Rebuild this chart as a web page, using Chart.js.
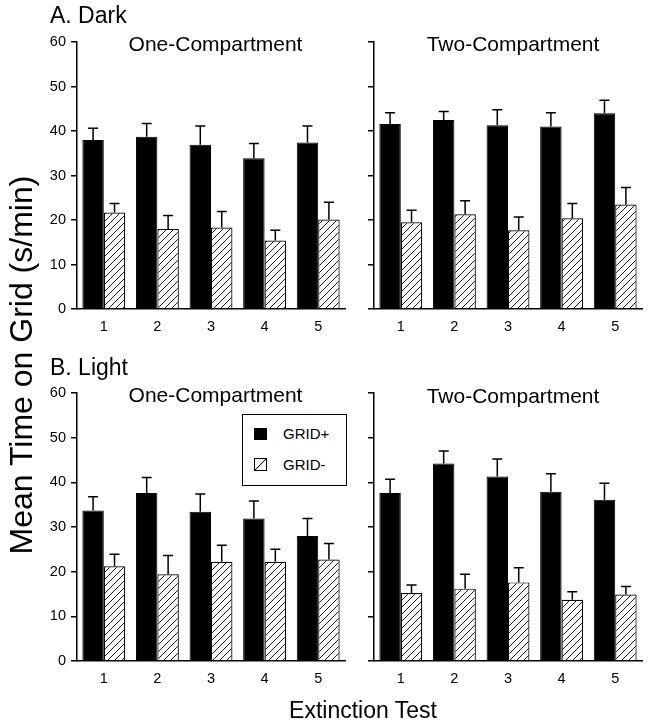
<!DOCTYPE html>
<html>
<head>
<meta charset="utf-8">
<script src="https://cdn.jsdelivr.net/npm/chart.js@4/dist/chart.umd.min.js"></script>
<style>
  html, body { margin:0; padding:0; background:#fff; }
  #wrap { position:relative; width:649px; height:725px; overflow:hidden; background:#fff;
          font-family:"Liberation Sans", Arial, Helvetica, sans-serif; color:#000; }
  canvas { position:absolute; }
  .txt { position:absolute; white-space:nowrap; line-height:1; }
  .ctr { text-align:center; }
</style>
</head>
<body>
<div id="wrap">
  <canvas id="c1"></canvas>
  <canvas id="c2"></canvas>
  <canvas id="c3"></canvas>
  <canvas id="c4"></canvas>

  <div class="txt" style="left:50px;top:3.8px;font-size:23px;">A. Dark</div>
  <div class="txt" style="left:50px;top:355.5px;font-size:23px;">B. Light</div>

  <div class="txt ctr" style="left:115.5px;width:200px;top:33.2px;font-size:21px;">One-Compartment</div>
  <div class="txt ctr" style="left:413px;width:200px;top:33.2px;font-size:21px;">Two-Compartment</div>
  <div class="txt ctr" style="left:115.5px;width:200px;top:384px;font-size:21px;">One-Compartment</div>
  <div class="txt ctr" style="left:413px;width:200px;top:385px;font-size:21px;">Two-Compartment</div>

  <div class="txt ctr" style="left:213px;width:300px;top:698.5px;font-size:23px;">Extinction Test</div>
  <div class="txt ctr" style="left:-199.4px;width:440px;top:348.5px;height:32px;font-size:32px;line-height:32px;transform:rotate(-90deg);transform-origin:50% 50%;">Mean Time on Grid (s/min)</div>

  <div id="legend" style="position:absolute;left:242px;top:414px;width:103px;height:70px;border:1.5px solid #000;background:#fff;">
    <div style="position:absolute;left:11px;top:13px;width:13px;height:12px;background:#000;"></div>
    <div style="position:absolute;left:11px;top:43px;width:11px;height:11px;border:1px solid #000;background:linear-gradient(to bottom right, rgba(0,0,0,0) calc(50% - 0.8px), #000 50%, rgba(0,0,0,0) calc(50% + 0.8px));"></div>
    <div class="txt" id="lg1" style="left:40px;top:10.5px;font-size:15px;"></div>
    <div class="txt" id="lg2" style="left:40px;top:42px;font-size:15px;"></div>
  </div>
</div>

<script>
// ---------------- data ----------------
const categories = ['1', '2', '3', '4', '5'];
const seriesNames = ['GRID+', 'GRID-'];
const yTicks = [0, 10, 20, 30, 40, 50, 60];

// A. Dark, One-Compartment
const darkOneGridPlus      = [38.0, 38.7, 36.9, 33.9, 37.4];
const darkOneGridPlusErr   = [2.6, 3.0, 4.2, 3.3, 3.7];
const darkOneGridMinus     = [21.7, 18.0, 18.3, 15.4, 20.1];
const darkOneGridMinusErr  = [2.0, 3.0, 3.6, 2.3, 3.9];
// A. Dark, Two-Compartment
const darkTwoGridPlus      = [41.6, 42.5, 41.3, 41.0, 44.0];
const darkTwoGridPlusErr   = [2.5, 1.9, 3.5, 3.1, 2.9];
const darkTwoGridMinus     = [19.5, 21.3, 17.7, 20.4, 23.5];
const darkTwoGridMinusErr  = [2.7, 3.0, 3.0, 3.3, 3.8];
// B. Light, One-Compartment
const lightOneGridPlus     = [33.7, 37.6, 33.4, 31.9, 28.0];
const lightOneGridPlusErr  = [3.1, 3.5, 4.0, 3.9, 3.9];
const lightOneGridMinus    = [21.2, 19.4, 22.2, 22.2, 22.7];
const lightOneGridMinusErr = [2.7, 4.2, 3.7, 2.8, 3.6];
// B. Light, Two-Compartment
const lightTwoGridPlus     = [37.6, 44.2, 41.3, 37.9, 36.1];
const lightTwoGridPlusErr  = [3.1, 2.8, 3.9, 4.0, 3.7];
const lightTwoGridMinus    = [15.2, 16.2, 17.6, 13.7, 14.9];
const lightTwoGridMinusErr = [1.8, 3.2, 3.3, 1.8, 1.8];

// ---------------- rendering ----------------
document.getElementById('lg1').textContent = seriesNames[0];
document.getElementById('lg2').textContent = seriesNames[1];

const FONT = '"Liberation Sans", Arial, Helvetica, sans-serif';

function makeHatch() {
  const s = 7;
  const pc = document.createElement('canvas');
  pc.width = s; pc.height = s;
  const g = pc.getContext('2d');
  g.fillStyle = '#fff';
  g.fillRect(0, 0, s, s);
  g.strokeStyle = '#000';
  g.lineWidth = 0.9;
  g.beginPath();
  g.moveTo(-1, s + 1); g.lineTo(s + 1, -1);
  g.moveTo(-1, 1); g.lineTo(1, -1);
  g.moveTo(s - 1, s + 1); g.lineTo(s + 1, s - 1);
  g.stroke();
  return g.createPattern(pc, 'repeat');
}

const errorBarPlugin = {
  id: 'errorBars',
  afterDatasetsDraw(chart) {
    const ctx = chart.ctx;
    const yScale = chart.scales.y;
    ctx.save();
    ctx.strokeStyle = '#000';
    ctx.lineWidth = 1.5;
    chart.data.datasets.forEach((ds, di) => {
      const meta = chart.getDatasetMeta(di);
      meta.data.forEach((bar, i) => {
        const v = ds.data[i];
        const e = ds.errors[i];
        const x = bar.x;
        const y0 = yScale.getPixelForValue(v);
        const y1 = yScale.getPixelForValue(v + e);
        ctx.beginPath();
        ctx.moveTo(x, y0);
        ctx.lineTo(x, y1);
        ctx.moveTo(x - 5, y1);
        ctx.lineTo(x + 5, y1);
        ctx.stroke();
      });
    });
    ctx.restore();
  }
};

function panel(id, L, T, R, B, plus, plusErr, minus, minusErr, showYLabels) {
  const cv = document.getElementById(id);
  const padL = 10, padT = 20, padR = 15, padB = 10, yW = 50, xH = 30;
  const w = (R - L) + padL + yW + padR;
  const h = (B - T) + padT + xH + padB;
  cv.width = w; cv.height = h;
  cv.style.width = w + 'px'; cv.style.height = h + 'px';
  cv.style.left = (L - padL - yW) + 'px';
  cv.style.top = (T - padT) + 'px';
  const hatch = makeHatch();
  return new Chart(cv.getContext('2d'), {
    type: 'bar',
    data: {
      labels: categories,
      datasets: [
        { label: seriesNames[0], data: plus, errors: plusErr,
          backgroundColor: '#000', borderColor: '#000', borderWidth: 1,
          barPercentage: 1.0, categoryPercentage: 0.8 },
        { label: seriesNames[1], data: minus, errors: minusErr,
          backgroundColor: hatch, borderColor: '#000', borderWidth: 1.2,
          barPercentage: 1.0, categoryPercentage: 0.8 }
      ]
    },
    options: {
      responsive: false,
      animation: false,
      devicePixelRatio: 1,
      layout: { padding: { left: padL, top: padT, right: padR, bottom: padB } },
      plugins: { legend: { display: false }, tooltip: { enabled: false }, title: { display: false } },
      scales: {
        x: {
          grid: { display: false, drawTicks: false },
          border: { display: true, color: '#000', width: 1.5 },
          ticks: { color: '#000', font: { family: FONT, size: 14.5 }, padding: 9, maxRotation: 0 },
          afterFit(s) { s.height = xH; }
        },
        y: {
          min: 0, max: 60,
          afterBuildTicks(s) { s.ticks = yTicks.map(v => ({ value: v })); },
          grid: { display: true, drawOnChartArea: false, drawTicks: true, tickLength: 6, color: '#000', lineWidth: 1.5 },
          border: { display: true, color: '#000', width: 1.5 },
          ticks: {
            color: '#000', font: { family: FONT, size: 14.5 }, padding: 5,
            callback: (v) => showYLabels ? String(v) : ''
          },
          afterFit(s) { s.width = yW; }
        }
      }
    },
    plugins: [errorBarPlugin]
  });
}

panel('c1', 77, 42, 345, 309, darkOneGridPlus, darkOneGridPlusErr, darkOneGridMinus, darkOneGridMinusErr, true);
panel('c2', 374, 42, 642, 309, darkTwoGridPlus, darkTwoGridPlusErr, darkTwoGridMinus, darkTwoGridMinusErr, false);
panel('c3', 77, 393, 345, 661, lightOneGridPlus, lightOneGridPlusErr, lightOneGridMinus, lightOneGridMinusErr, true);
panel('c4', 374, 393, 642, 661, lightTwoGridPlus, lightTwoGridPlusErr, lightTwoGridMinus, lightTwoGridMinusErr, false);
</script>
</body>
</html>
